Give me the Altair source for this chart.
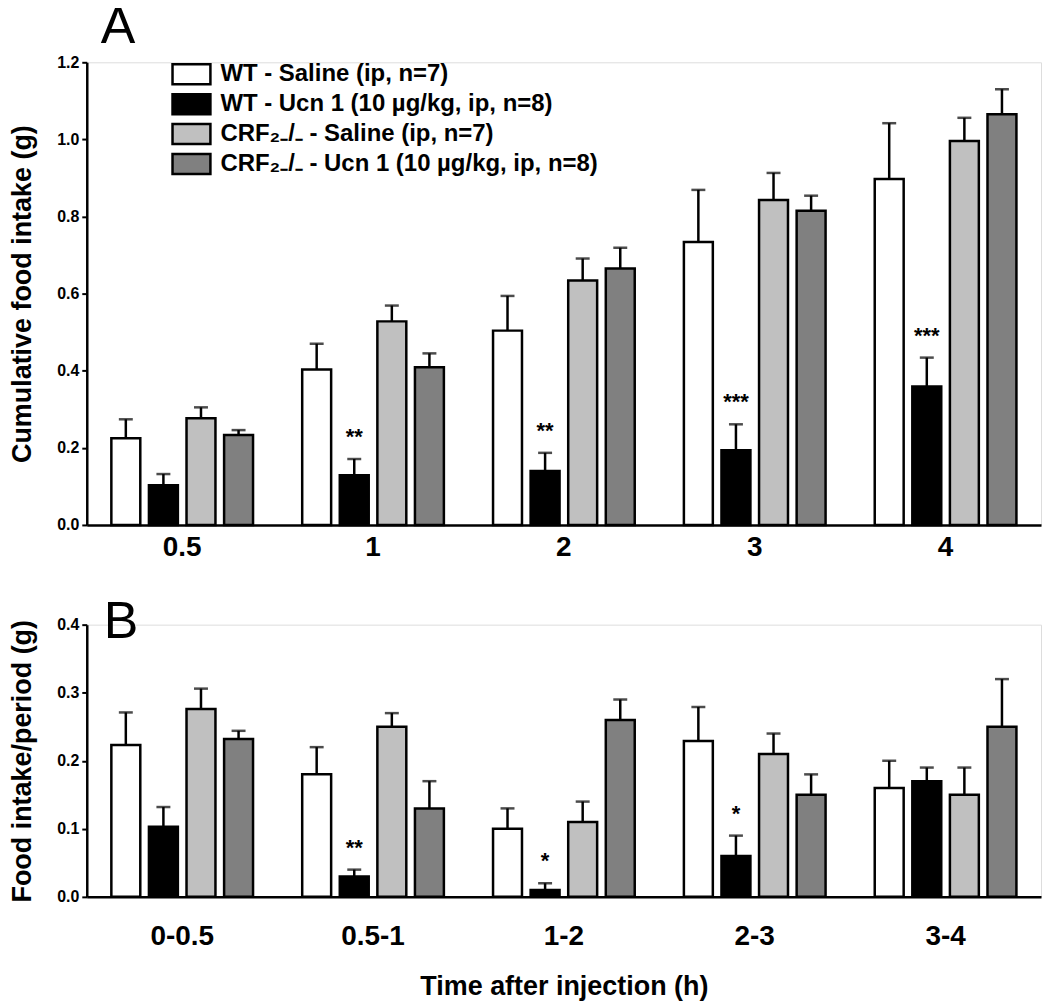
import altair as alt
import pandas as pd

FONT = "Liberation Sans"

groups = [
    "WT - Saline (ip, n=7)",
    "WT - Ucn 1 (10 µg/kg, ip, n=8)",
    "CRF₂₋/₋ - Saline (ip, n=7)",
    "CRF₂₋/₋ - Ucn 1 (10 µg/kg, ip, n=8)",
]
colors = ["#ffffff", "#000000", "#c0c0c0", "#808080"]

# Panel A: cumulative food intake (g)
times_a = ["0.5", "1", "2", "3", "4"]
a_wt_sal = [0.225, 0.403, 0.504, 0.734, 0.897]
a_wt_sal_sem = [0.049, 0.067, 0.090, 0.135, 0.145]
a_wt_ucn = [0.103, 0.129, 0.140, 0.194, 0.359]
a_wt_ucn_sem = [0.029, 0.042, 0.047, 0.067, 0.075]
a_ko_sal = [0.277, 0.528, 0.634, 0.843, 0.996]
a_ko_sal_sem = [0.028, 0.041, 0.057, 0.070, 0.060]
a_ko_ucn = [0.233, 0.409, 0.665, 0.815, 1.065]
a_ko_ucn_sem = [0.013, 0.036, 0.054, 0.039, 0.065]
a_stars = ["", "**", "**", "***", "***"]

# Panel B: food intake per period (g)
times_b = ["0-0.5", "0.5-1", "1-2", "2-3", "3-4"]
b_wt_sal = [0.223, 0.180, 0.100, 0.229, 0.160]
b_wt_sal_sem = [0.048, 0.040, 0.030, 0.050, 0.040]
b_wt_ucn = [0.103, 0.030, 0.010, 0.060, 0.170]
b_wt_ucn_sem = [0.029, 0.010, 0.010, 0.030, 0.020]
b_ko_sal = [0.276, 0.250, 0.110, 0.210, 0.150]
b_ko_sal_sem = [0.030, 0.020, 0.030, 0.030, 0.040]
b_ko_ucn = [0.232, 0.130, 0.260, 0.150, 0.250]
b_ko_ucn_sem = [0.012, 0.040, 0.030, 0.030, 0.070]
b_stars = ["", "**", "*", "*", ""]

ticks_a = [round(i * 0.1, 1) for i in range(13)]
ticks_b = [0.0, 0.1, 0.2, 0.3, 0.4]


def make_df(times, means, sems, stars):
    rows = []
    for gi, g in enumerate(groups):
        for ti, t in enumerate(times):
            m = means[gi][ti]
            s = sems[gi][ti]
            rows.append({
                "period": t, "group": g, "mean": m, "top": m + s,
                "star": stars[ti] if gi == 1 else "",
            })
    return pd.DataFrame(rows)


df_a = make_df(times_a, [a_wt_sal, a_wt_ucn, a_ko_sal, a_ko_ucn],
               [a_wt_sal_sem, a_wt_ucn_sem, a_ko_sal_sem, a_ko_ucn_sem], a_stars)
df_b = make_df(times_b, [b_wt_sal, b_wt_ucn, b_ko_sal, b_ko_ucn],
               [b_wt_sal_sem, b_wt_ucn_sem, b_ko_sal_sem, b_ko_ucn_sem], b_stars)


def panel(df, times, ymax, ticks, height, ytitle, letter, title_offset, title_dx,
          legend, xtitle, xlabel_pad):
    x_axis_kwargs = dict(
        labelAngle=0, ticks=False, domainWidth=2.5, domainColor="black",
        labelFont=FONT, labelFontSize=28, labelFontWeight="bold", labelColor="black",
        labelPadding=xlabel_pad,
    )
    if xtitle:
        x_axis_kwargs.update(title=xtitle, titleFont=FONT, titleFontSize=27,
                             titleFontWeight="bold", titleColor="black", titlePadding=23)
    else:
        x_axis_kwargs.update(title=None)
    x = alt.X("period:N", sort=times,
              scale=alt.Scale(paddingInner=0, paddingOuter=0),
              axis=alt.Axis(**x_axis_kwargs))
    xo = alt.XOffset("group:N", sort=groups,
                     scale=alt.Scale(domain=groups, paddingInner=0.23, paddingOuter=0.654))
    yscale = alt.Scale(domain=[0, ymax], nice=False, zero=True)
    y = alt.Y("mean:Q", scale=yscale, axis=alt.Axis(
        values=ticks, format=".1f", grid=False,
        labelFont=FONT, labelFontSize=16, labelFontWeight="bold", labelColor="black",
        tickSize=5, tickWidth=2, tickColor="black", domainWidth=2.5, domainColor="black",
        labelPadding=3,
        title=ytitle, titleFont=FONT, titleFontSize=27, titleFontWeight="bold",
        titleColor="black", titlePadding=20,
    ))
    fill = alt.Fill("group:N", sort=groups,
                    scale=alt.Scale(domain=groups, range=colors),
                    legend=legend)
    base = alt.Chart(df)
    rule = base.mark_rule(color="black", strokeWidth=2.5).encode(
        x=x, xOffset=xo, y=alt.Y("mean:Q", scale=yscale), y2="top:Q")
    bars = base.mark_bar(stroke="black", strokeWidth=2.5).encode(
        x=x, xOffset=xo, y=y, fill=fill)
    caps = base.mark_tick(color="black", size=14, thickness=2.5).encode(
        x=x, xOffset=xo, y=alt.Y("top:Q", scale=yscale))
    stars = base.transform_filter(alt.datum.star != "").mark_text(
        font=FONT, fontSize=22, fontWeight="bold", baseline="alphabetic",
        dy=-15, color="black").encode(
        x=x, xOffset=xo, y=alt.Y("top:Q", scale=yscale), text="star:N")
    return alt.layer(rule, bars, caps, stars).properties(
        width=957, height=height,
        title=alt.TitleParams(letter, anchor="start", frame="group", font=FONT,
                              fontSize=52, fontWeight="normal", color="black",
                              dx=title_dx, baseline="alphabetic", offset=title_offset),
    )


legend_a = alt.Legend(
    title=None, orient="none", legendX=93, legendY=0, padding=0,
    symbolType="M-1.9,-1H1.9V1H-1.9Z", symbolSize=400,
    symbolStrokeColor="black", symbolStrokeWidth=2.5, symbolOpacity=1,
    labelFont=FONT, labelFontSize=24, labelFontWeight="bold", labelColor="black",
    labelOffset=17, rowPadding=0, labelLimit=600,
)

chart_a = panel(df_a, times_a, 1.2, ticks_a, 464, "Cumulative food intake (g)",
                "A", -41, 14, legend_a, None, 9)
chart_b = panel(df_b, times_b, 0.4, ticks_b, 273, "Food intake/period (g)",
                "B", -73, 17, None, "Time after injection (h)", 26)

chart = alt.vconcat(chart_a, chart_b, spacing=32).resolve_scale(
    fill="independent").properties(
    padding={"left": 0, "top": -9, "right": 0, "bottom": 0}
).configure_view(stroke=None).configure(background="white")

chart.save("out.html", embed_options={"renderer": "svg", "actions": False})
